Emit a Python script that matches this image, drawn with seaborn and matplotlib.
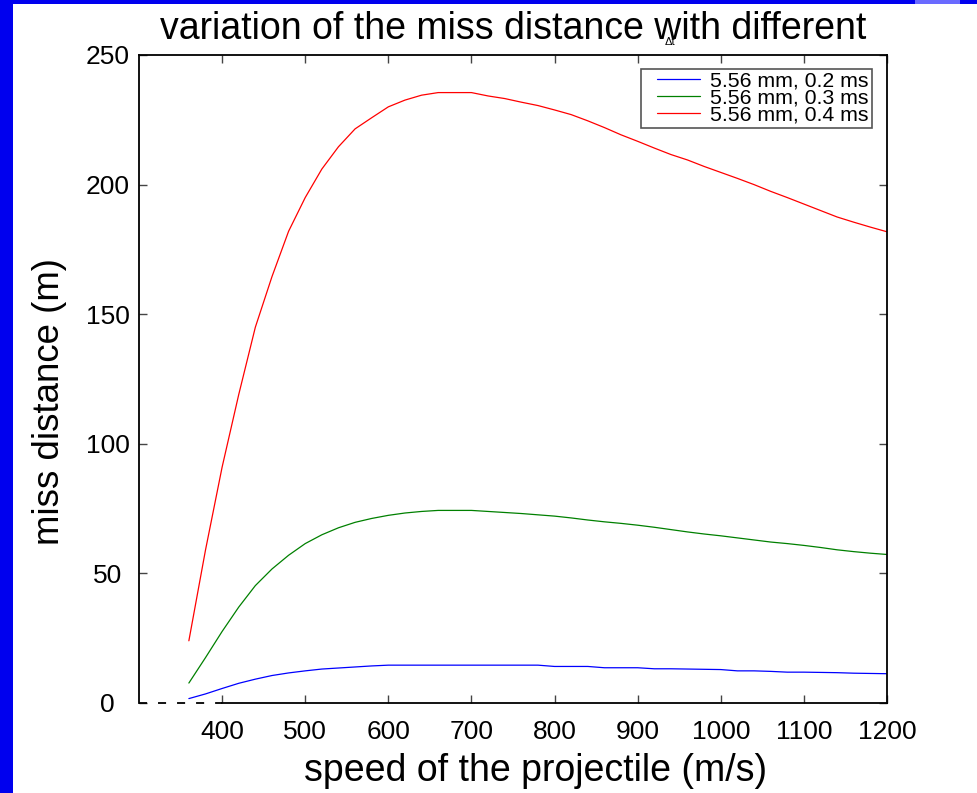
import numpy as np
import pandas as pd
import matplotlib
matplotlib.use("Agg")
import matplotlib.pyplot as plt
import seaborn as sns
from matplotlib.legend_handler import HandlerLine2D
from matplotlib.patches import Rectangle

# ---------------- data ----------------
speed = [360, 380, 400, 420, 440, 460, 480, 500, 520, 540, 560, 580, 600, 620,
         640, 660, 680, 700, 720, 740, 760, 780, 800, 820, 840, 860, 880, 900,
         920, 940, 960, 980, 1000, 1020, 1040, 1060, 1080, 1100, 1120, 1140,
         1160, 1180, 1200]

miss_02 = [1.7, 3.5, 5.6, 7.6, 9.2, 10.6, 11.6, 12.4, 13.1, 13.5, 13.9, 14.3,
           14.6, 14.6, 14.6, 14.6, 14.6, 14.6, 14.6, 14.6, 14.6, 14.6, 14.1,
           14.1, 14.1, 13.6, 13.6, 13.6, 13.2, 13.2, 13.1, 13.0, 12.9, 12.4,
           12.4, 12.2, 11.9, 11.9, 11.8, 11.7, 11.5, 11.4, 11.3]

miss_03 = [7.7, 17.5, 27.6, 37.0, 45.3, 51.7, 57.0, 61.5, 64.9, 67.6, 69.7,
           71.2, 72.4, 73.3, 73.9, 74.3, 74.3, 74.3, 73.9, 73.5, 73.1, 72.6,
           72.1, 71.4, 70.6, 69.9, 69.3, 68.6, 67.8, 66.9, 66.0, 65.2, 64.5,
           63.7, 62.9, 62.1, 61.5, 60.8, 60.0, 59.1, 58.4, 57.8, 57.3]

miss_04 = [24.0, 59.0, 91.0, 119.0, 145.0, 164.5, 182.0, 195.0, 206.0, 214.6,
           221.5, 225.8, 230.0, 232.6, 234.5, 235.5, 235.5, 235.5, 234.2,
           233.2, 231.8, 230.5, 228.8, 227.0, 224.6, 222.0, 219.2, 216.7,
           214.1, 211.6, 209.5, 207.0, 204.7, 202.4, 200.0, 197.4, 195.0,
           192.5, 190.0, 187.5, 185.5, 183.6, 181.8]

series_labels = ["5.56 mm, 0.2 ms", "5.56 mm, 0.3 ms", "5.56 mm, 0.4 ms"]
series_colors = ["#0000ff", "#008000", "#ff0000"]

x_ticks = [400, 500, 600, 700, 800, 900, 1000, 1100, 1200]
y_ticks = [0, 50, 100, 150, 200, 250]
x_limits = (300, 1200)
y_limits = (0, 250)

title_text = "variation of the miss distance with different"
delta_text = "Δt"
x_label = "speed of the projectile (m/s)"
y_label = "miss distance (m)"

# ---------------- plotting ----------------
sns.set_style("white")
plt.rcParams["font.family"] = ["Liberation Sans", "DejaVu Sans"]
plt.rcParams["lines.scale_dashes"] = False
plt.rcParams["text.color"] = "black"
plt.rcParams["axes.labelcolor"] = "black"

df = pd.concat([
    pd.DataFrame({"speed": speed, "miss": vals, "series": lab})
    for vals, lab in zip([miss_02, miss_03, miss_04], series_labels)
], ignore_index=True)

W, H = 978, 793
fig = plt.figure(figsize=(W / 100, H / 100), dpi=100)
fig.patch.set_facecolor("white")

# blue slide border
fig.patches.append(Rectangle((0, 0), 13 / W, 1, transform=fig.transFigure,
                             facecolor="#0000ee", edgecolor="none", zorder=-5))
fig.patches.append(Rectangle((0, 1 - 4 / H), 1, 4 / H, transform=fig.transFigure,
                             facecolor="#0000ee", edgecolor="none", zorder=-5))
fig.patches.append(Rectangle((915 / W, 1 - 4 / H), 45 / W, 4 / H,
                             transform=fig.transFigure, facecolor="#6a6aff",
                             edgecolor="none", zorder=-4))

ax = fig.add_axes([139 / W, 1 - 703 / H, 748 / W, 648 / H])

sns.lineplot(data=df, x="speed", y="miss", hue="series",
             palette=dict(zip(series_labels, series_colors)),
             linewidth=0.9, ax=ax, legend=True)

ax.set_xlim(*x_limits)
ax.set_ylim(*y_limits)
ax.set_xticks(x_ticks)
ax.set_yticks(y_ticks)
ax.set_xticklabels([str(t) for t in x_ticks])
ax.set_yticklabels([str(t) for t in y_ticks])

for side in ["left", "right", "top", "bottom"]:
    ax.spines[side].set_color("black")
    ax.spines[side].set_linewidth(1.3)
    ax.spines[side].set_visible(True)
ax.spines["bottom"].set_bounds(x_ticks[0], x_limits[1])
ax.plot([x_limits[0], x_ticks[0]], [y_limits[0], y_limits[0]],
        color="black", linewidth=1.3, dashes=(5.8, 7.9), clip_on=False,
        zorder=5)

ax.tick_params(axis="both", which="major", direction="in", length=6,
               width=1.0, color="#444444", labelsize=19, labelcolor="black",
               top=True, right=True, bottom=True, left=True)
ax.tick_params(axis="x", pad=12)
ax.tick_params(axis="y", pad=22.5)
for lbl in ax.get_yticklabels():
    lbl.set_horizontalalignment("center")

ax.set_title(title_text, fontsize=27, pad=11.5, color="black")
fig.text(670 / W, 1 - 42 / H, delta_text, fontsize=8, ha="center",
         va="center", color="black")

ax.set_xlabel(x_label, fontsize=27, va="baseline", color="black")
ax.xaxis.set_label_coords(0.53, -78 / 648)
ax.set_ylabel(y_label, fontsize=26.4, va="center", color="black")
ax.yaxis.set_label_coords(-89 / 748, (703 - 401.5) / 648)

handles, labels = ax.get_legend_handles_labels()
leg = ax.legend(handles, labels, loc="upper right",
                bbox_to_anchor=(733 / 748, (703 - 68.5) / 648),
                bbox_transform=ax.transAxes, borderaxespad=0,
                fontsize=15.3, frameon=True, fancybox=False, shadow=False,
                borderpad=0.15, labelspacing=-0.1, handlelength=2.65,
                handletextpad=0.48,
                handler_map={h: HandlerLine2D(xpad=0.62) for h in handles})
frame = leg.get_frame()
frame.set_edgecolor("#555555")
frame.set_linewidth(1.2)
frame.set_facecolor("white")
frame.set_alpha(1)
for t in leg.get_texts():
    t.set_color("black")
for h in leg.get_lines():
    h.set_linewidth(0.9)

fig.savefig("out.png", dpi=100)
